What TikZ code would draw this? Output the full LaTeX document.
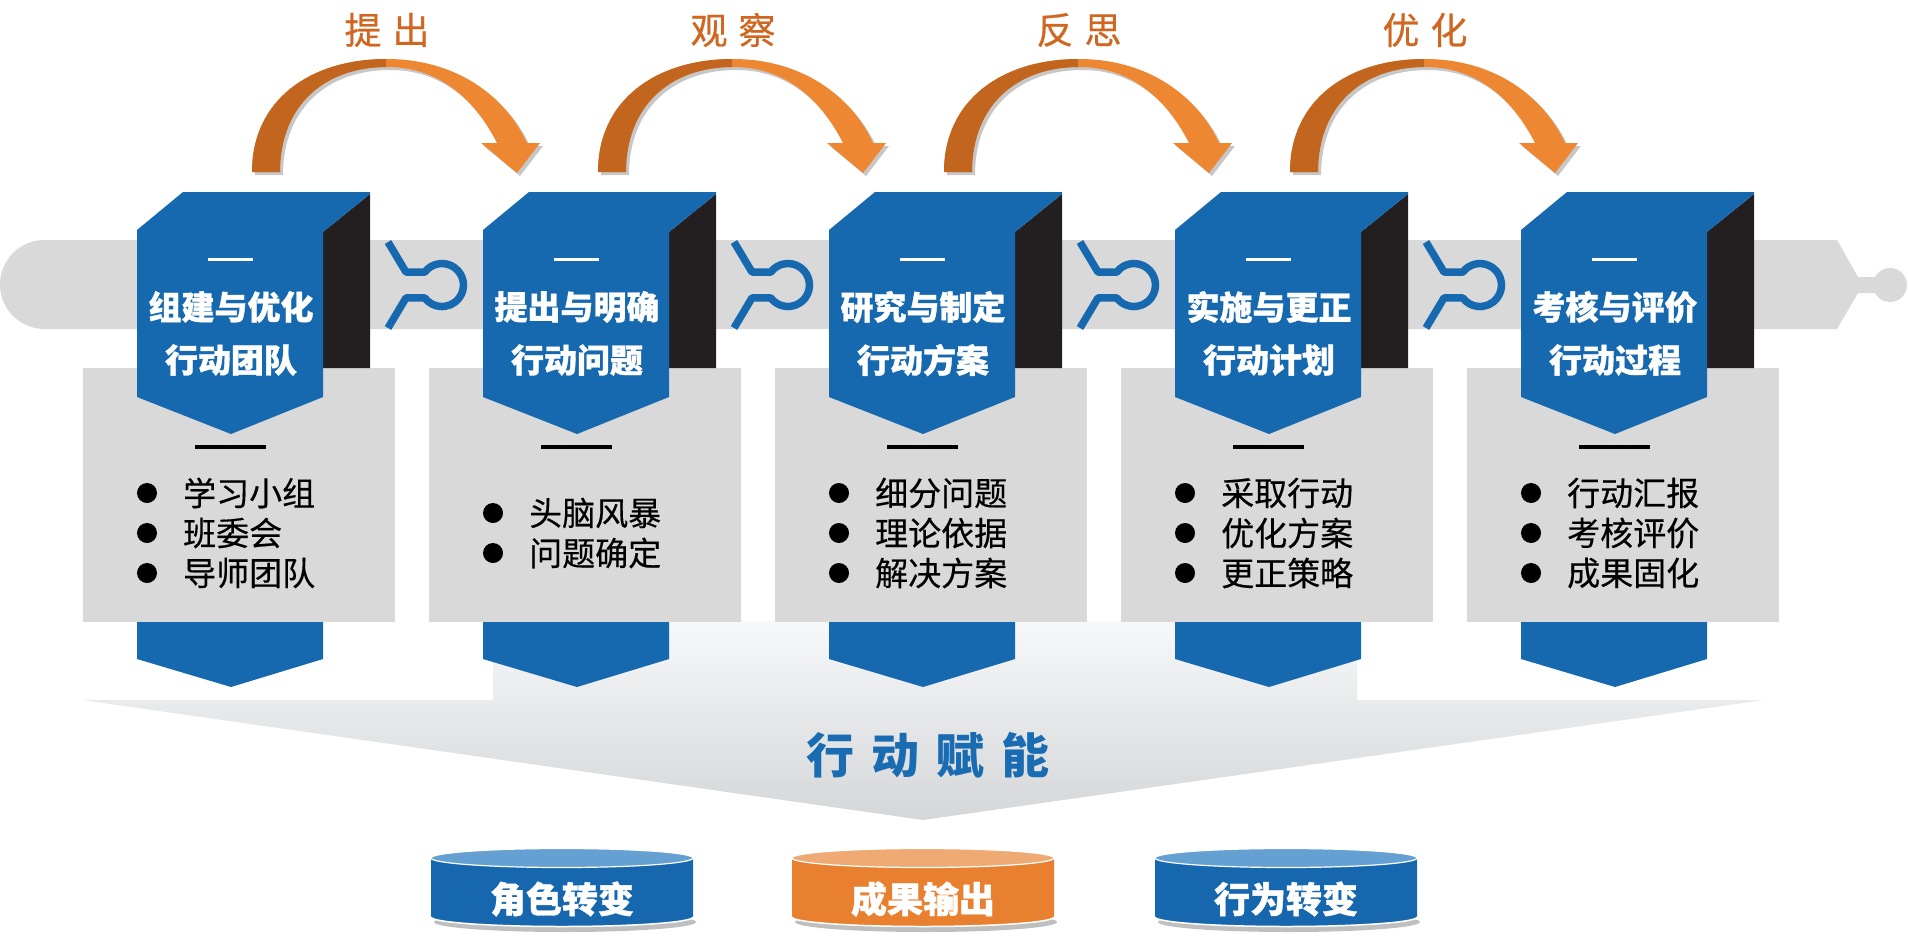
\documentclass[tikz,border=0pt]{standalone}
\usepackage{fontspec}
\newfontfamily\cjk{Noto Sans CJK SC}
\usetikzlibrary{calc}
\definecolor{bmain}{HTML}{1668AF}
\definecolor{sidec}{HTML}{231F20}
\definecolor{boxg}{HTML}{D9D9D9}
\definecolor{barc}{HTML}{D9D9D9}
\definecolor{arrD}{HTML}{C1651F}
\definecolor{arrL}{HTML}{EE8732}
\definecolor{lblc}{HTML}{D0661F}
\definecolor{cylB}{HTML}{1767AE}
\definecolor{cylBt}{HTML}{64A0D2}
\definecolor{cylO}{HTML}{E8802F}
\definecolor{cylOt}{HTML}{EFAA74}
\definecolor{bigt}{HTML}{1A6CB2}
\definecolor{fnTop}{HTML}{F7F8FA}
\definecolor{fnBot}{HTML}{D5D6D8}
\begin{document}
\begin{tikzpicture}[x=1pt,y=-1pt,
  titletxt/.style={font=\cjk\bfseries\addfontfeatures{FakeBold=1}\fontsize{33}{33}\selectfont, text=white, inner sep=0pt},
  listtxt/.style={font=\cjk\addfontfeatures{FakeBold=0.4}\fontsize{33}{33}\selectfont, text=black, anchor=west, inner sep=0pt},
  lbltxt/.style={font=\cjk\addfontfeatures{FakeBold=0.6}\fontsize{37}{37}\selectfont, text=lblc, inner sep=0pt},
  cyltxt/.style={font=\cjk\bfseries\addfontfeatures{FakeBold=1}\fontsize{36}{36}\selectfont, text=white, inner sep=0pt},
  bigtxt/.style={font=\cjk\bfseries\fontsize{48}{48}\selectfont, text=bigt, inner sep=0pt},
  symb/.style={draw=bmain, line width=7.5pt, line join=round},
  wdash/.style={draw=white, line width=3pt},
  kdash/.style={draw=black, line width=3.5pt}]
\useasboundingbox (0,0) rectangle (1908,942);

% track bar
\fill[barc] (1837,240) -- (44.5,240) arc[start angle=90,end angle=270,radius=44.5pt]
  -- (1837,329) -- (1858,293) -- (1880,293) -- (1880,277) -- (1858,277) -- cycle;
\fill[barc] (1890,285) circle[radius=17pt];

% funnel
\shade[top color=fnTop, bottom color=fnBot]
  (82,700) -- (493,700) -- (493,621) -- (1357,621) -- (1357,700) -- (1764,700) -- (923,820) -- cycle;

% connector symbols on the track
\foreach \c in {577,923,1269,1615} {
  \draw[symb] (\c-189,242) -- (\c-171,272.1) -- (\c-152.2,272.1)
     arc[start angle=143,end angle=-143,radius=21.5pt] -- (\c-171,297.9) -- (\c-189,328);
}

% step boxes
\foreach \c/\i/\ta/\tb in {231/1/组建与优化/行动团队, 577/2/提出与明确/行动问题,
   923/3/研究与制定/行动方案, 1269/4/实施与更正/行动计划, 1615/5/考核与评价/行动过程} {
  \fill[bmain] (\c-94,610) -- (\c-94,659) -- (\c,687) -- (\c+92,659) -- (\c+92,610) -- cycle;
  \fill[boxg] (\c-148,368) rectangle (\c+164,622);
  \fill[sidec] (\c+92,232) -- (\c+139,194) -- (\c+139,368) -- (\c+92,368) -- cycle;
  \fill[bmain] (\c-94,230) -- (\c-48,192) -- (\c+139,192) -- (\c+139,194) -- (\c+92,232)
     -- (\c+92,397) -- (\c,434) -- (\c-94,397) -- cycle;
  \draw[wdash] (\c-23,259) -- (\c+22,259);
  \draw[kdash] (\c-36,447) -- (\c+35,447);
  \node[titletxt] (ta\i) at (\c,307) {\ta};
  \node[titletxt] (tb\i) at (\c,360) {\tb};
}

% bullet lists
\foreach \c/\y/\n/\txt in {231/493/a1/学习小组, 231/533/b1/班委会, 231/573/c1/导师团队,
   577/513/a2/头脑风暴, 577/553/b2/问题确定,
   923/493/a3/细分问题, 923/533/b3/理论依据, 923/573/c3/解决方案,
   1269/493/a4/采取行动, 1269/533/b4/优化方案, 1269/573/c4/更正策略,
   1615/493/a5/行动汇报, 1615/533/b5/考核评价, 1615/573/c5/成果固化} {
  \fill[black] (\c-84,\y) circle[radius=10pt];
  \node[listtxt] (li\n) at (\c-48,\y) {\txt};
}

% curved arrows with labels
\foreach \k/\a/\b in {0/提/出, 1/观/察, 2/反/思, 3/优/化} {
  \begin{scope}[xshift=\k*346pt]
    \def\arrowpath{(252,172) .. controls (252,100) and (310,59) .. (387,59)
       .. controls (455,59) and (505,95) .. (527,143) -- (540,143) -- (517,173) -- (481,143)
       -- (497,143) .. controls (475,100) and (440,67) .. (387,67)
       .. controls (325,67) and (280,105) .. (280,172) -- cycle}
    \fill[black, opacity=.22] [xshift=3pt,yshift=-3pt] \arrowpath;
    \fill[arrL] \arrowpath;
    \begin{scope}
      \clip (200,40) rectangle (386,180);
      \fill[arrD] \arrowpath;
    \end{scope}
    \node[lbltxt] (lab\k) at (387,30) {\a\hspace{11pt}\b};
  \end{scope}
}

% central label
\node[bigtxt] (big) at (928,755) {行\hspace{17pt}动\hspace{17pt}赋\hspace{17pt}能};

% cylinders
\foreach \cx/\bc/\tc/\txt/\n in {562/cylB/cylBt/角色转变/1, 923/cylO/cylOt/成果输出/2, 1286/cylB/cylBt/行为转变/3} {
  \fill[black, opacity=.25] (\cx+3,922) ellipse[x radius=131pt, y radius=10pt];
  \fill[\bc] (\cx-131,858) -- (\cx-131,917) arc[start angle=180,end angle=360,x radius=131pt,y radius=9.5pt]
     -- (\cx+131,858) -- cycle;
  \draw[white, line width=1.5pt] (\cx-131,917) arc[start angle=180,end angle=360,x radius=131pt,y radius=9.5pt];
  \fill[\tc] (\cx,858) ellipse[x radius=131pt, y radius=9.5pt];
  \draw[white, line width=1.2pt] (\cx,858) ellipse[x radius=131pt, y radius=9.5pt];
  \node[cyltxt] (cy\n) at (\cx,899) {\txt};
}
\end{tikzpicture}
\end{document}
